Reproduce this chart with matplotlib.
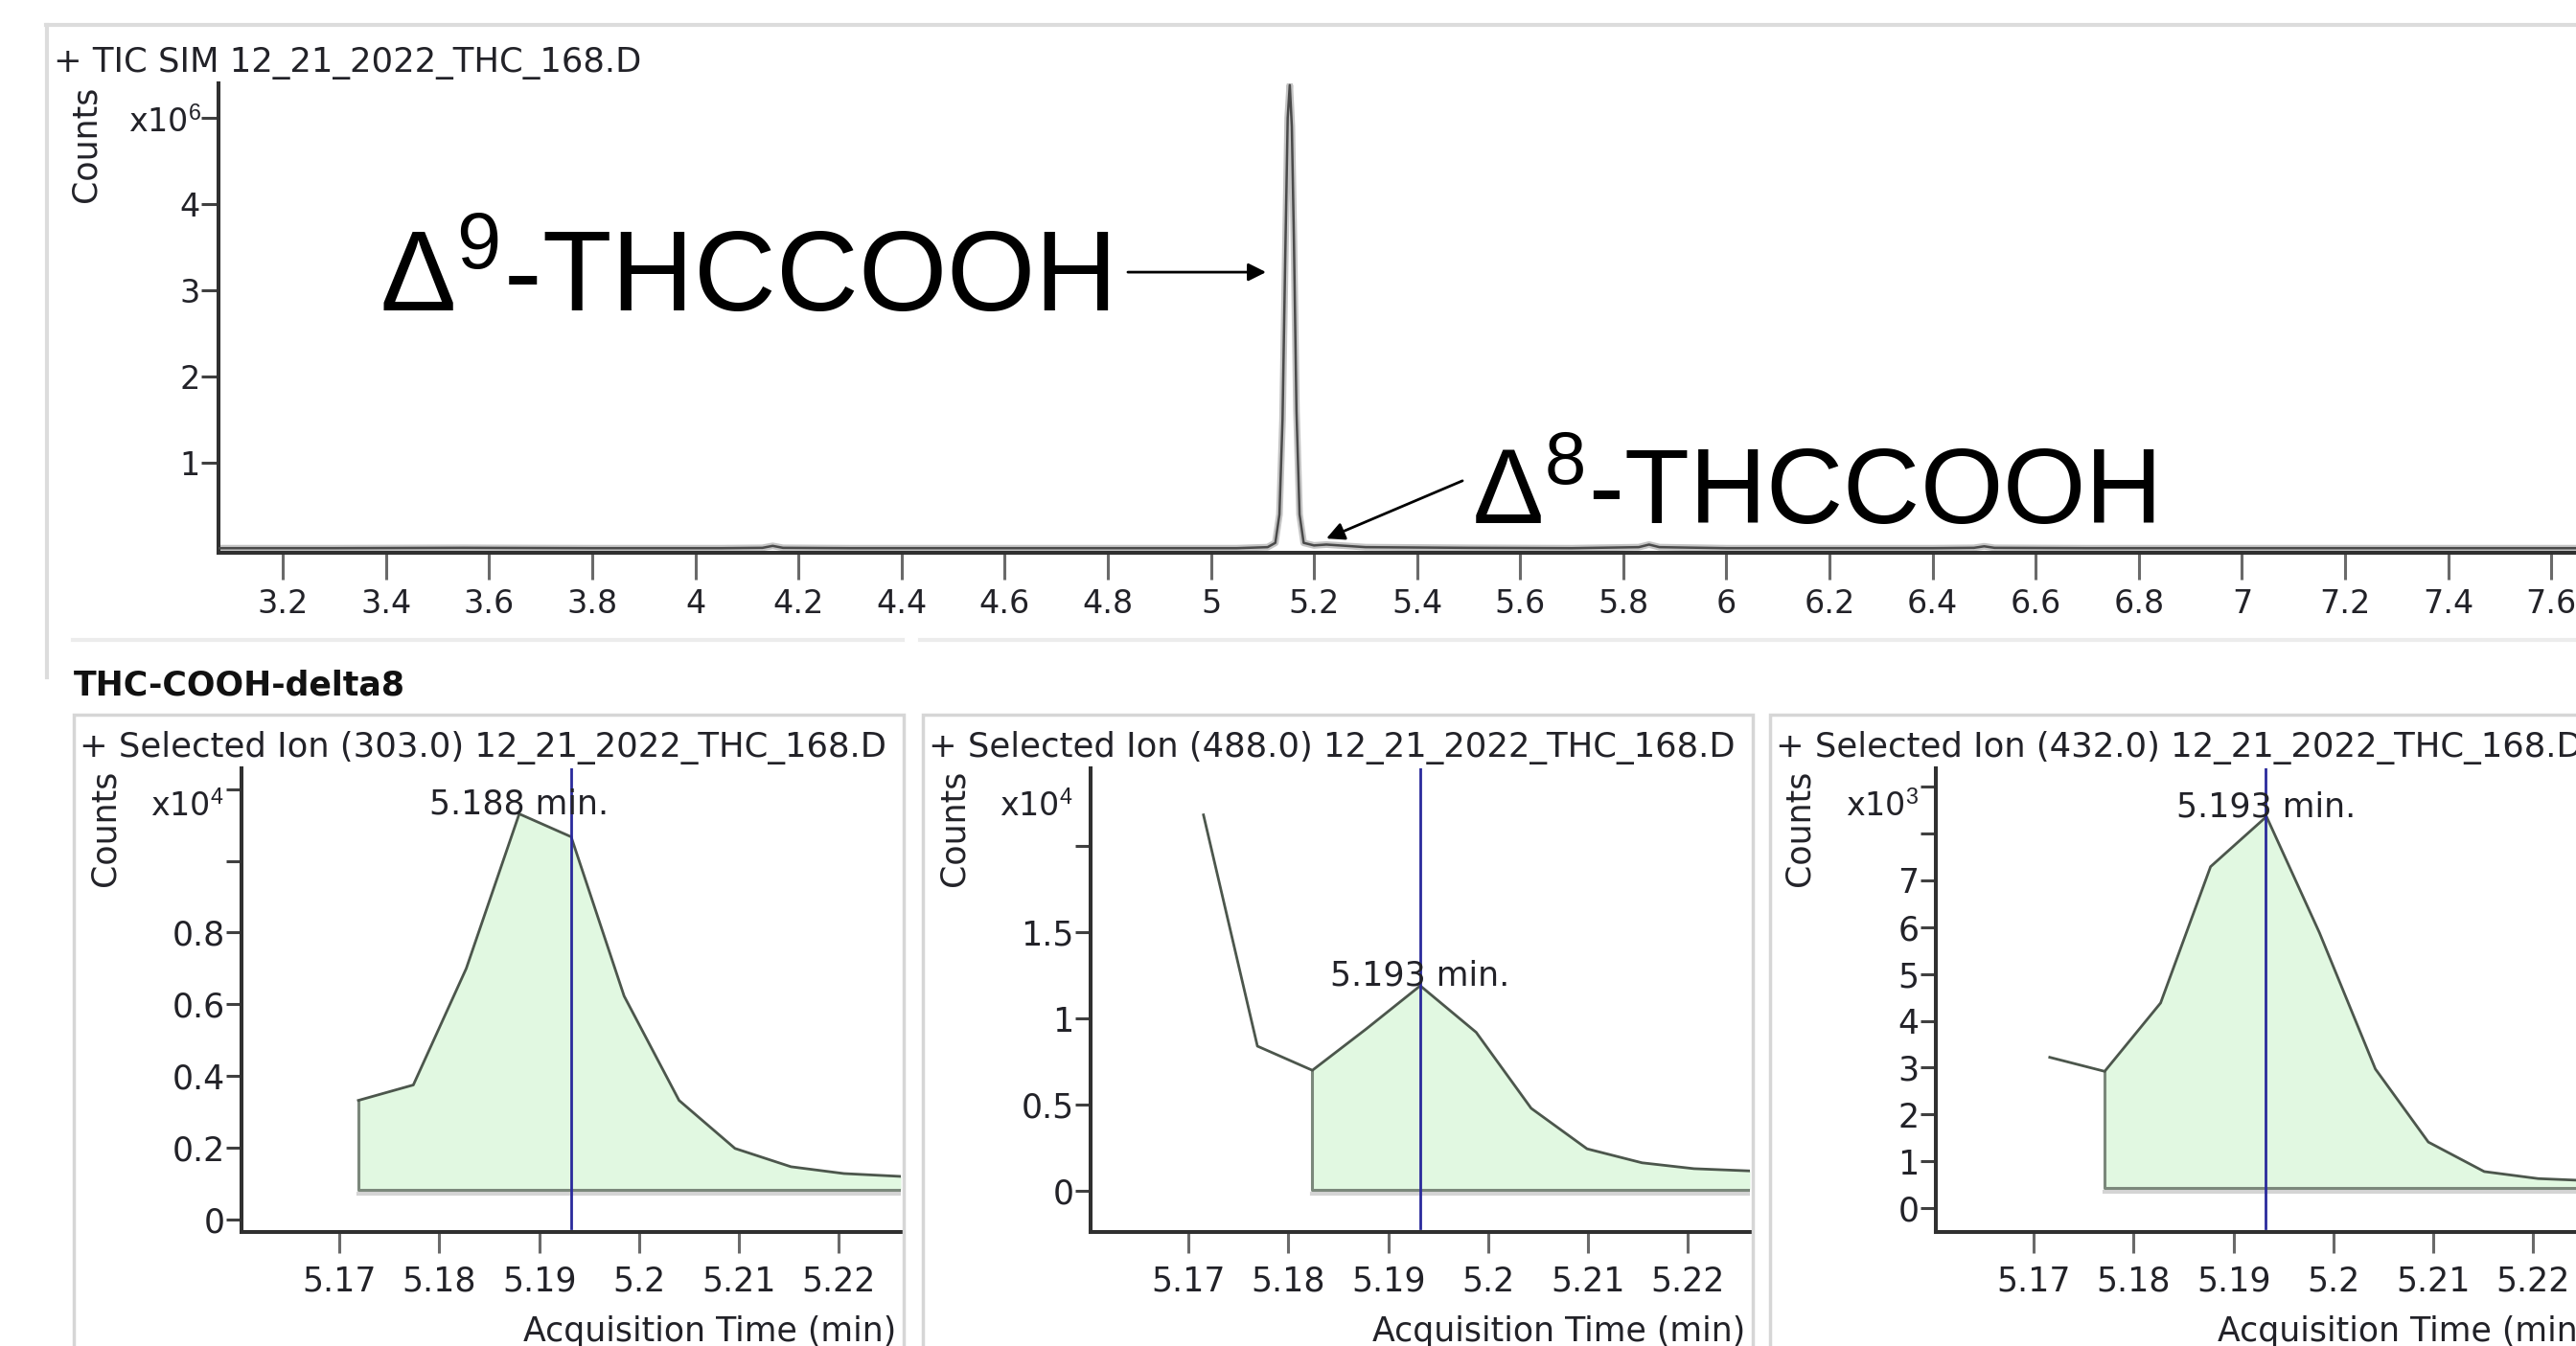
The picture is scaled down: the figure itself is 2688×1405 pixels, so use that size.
import matplotlib
matplotlib.use('Agg')
import matplotlib.pyplot as plt
import matplotlib.transforms as mtransforms
from matplotlib.patches import Rectangle
from matplotlib.lines import Line2D

plt.rcParams['font.family'] = ['DejaVu Sans']
plt.rcParams['mathtext.fontset'] = 'custom'
plt.rcParams['mathtext.rm'] = 'Liberation Sans'
plt.rcParams['mathtext.it'] = 'Liberation Sans:italic'
plt.rcParams['mathtext.bf'] = 'Liberation Sans:bold'

# ---- data (counts in units of the axis exponent) ----
tic_title = "+ TIC SIM 12_21_2022_THC_168.D"
tic_time = [3.075, 3.30, 3.55, 3.80, 4.05, 4.13, 4.15, 4.17, 4.30, 4.50, 4.70,
            4.90, 5.05, 5.11, 5.125, 5.133, 5.139, 5.144, 5.149, 5.153, 5.157,
            5.161, 5.166, 5.172, 5.180, 5.200, 5.224, 5.30, 5.50, 5.70, 5.83,
            5.85, 5.87, 6.00, 6.20, 6.40, 6.48, 6.50, 6.52, 6.70, 7.00, 7.30, 7.65]
tic_counts = [0.008, 0.008, 0.012, 0.008, 0.008, 0.012, 0.035, 0.012, 0.008, 0.008, 0.008,
              0.008, 0.008, 0.02, 0.07, 0.4, 1.5, 3.3, 5.0, 5.38, 4.9,
              3.6, 1.6, 0.4, 0.07, 0.04, 0.05, 0.02, 0.012, 0.008, 0.02,
              0.05, 0.02, 0.008, 0.008, 0.008, 0.012, 0.03, 0.012, 0.008, 0.008, 0.008, 0.008]
tic_xticks = [3.2, 3.4, 3.6, 3.8, 4.0, 4.2, 4.4, 4.6, 4.8, 5.0, 5.2, 5.4, 5.6,
              5.8, 6.0, 6.2, 6.4, 6.6, 6.8, 7.0, 7.2, 7.4, 7.6]
tic_xlabels = ['3.2', '3.4', '3.6', '3.8', '4', '4.2', '4.4', '4.6', '4.8', '5',
               '5.2', '5.4', '5.6', '5.8', '6', '6.2', '6.4', '6.6', '6.8', '7',
               '7.2', '7.4', '7.6']
tic_yticks = [1, 2, 3, 4, 5]
tic_ylabels = ['1', '2', '3', '4', '']

compound = "THC-COOH-delta8"
sub_titles = ["+ Selected Ion (303.0) 12_21_2022_THC_168.D",
              "+ Selected Ion (488.0) 12_21_2022_THC_168.D",
              "+ Selected Ion (432.0) 12_21_2022_THC_168.D"]
sub_exps = [4, 4, 3]
rt_expected = 5.1932
apex_labels = ["5.188 min.", "5.193 min.", "5.193 min."]
sub_xticks = [5.17, 5.18, 5.19, 5.20, 5.21, 5.22]
sub_xlabels = ['5.17', '5.18', '5.19', '5.2', '5.21', '5.22']

ion303_time = [5.1719, 5.1774, 5.1827, 5.1880, 5.1932, 5.1985, 5.2040, 5.2096, 5.2152, 5.2205, 5.2262]
ion303_counts = [0.332, 0.375, 0.70, 1.131, 1.067, 0.623, 0.332, 0.198, 0.147, 0.128, 0.120]
ion303_base = 0.083
ion303_yticks = [0, 0.2, 0.4, 0.6, 0.8, 1.0, 1.2]
ion303_ylabels = ['0', '0.2', '0.4', '0.6', '0.8', '', '']

ion488_time = [5.1715, 5.1769, 5.1824, 5.1878, 5.1932, 5.1988, 5.2043, 5.2099, 5.2154, 5.2206, 5.2262]
ion488_counts = [2.18, 0.84, 0.70, 0.94, 1.19, 0.92, 0.48, 0.245, 0.164, 0.13, 0.117]
ion488_base = 0.01
ion488_yticks = [0, 0.5, 1.0, 1.5, 2.0]
ion488_ylabels = ['0', '0.5', '1', '1.5', '']

ion432_time = [5.1716, 5.1771, 5.1827, 5.1877, 5.1933, 5.1986, 5.2042, 5.2095, 5.2151, 5.2205, 5.2262]
ion432_counts = [3.22, 2.92, 4.38, 7.29, 8.36, 5.88, 2.97, 1.41, 0.78, 0.63, 0.58]
ion432_base = 0.44
ion432_yticks = [0, 1, 2, 3, 4, 5, 6, 7, 8, 9]
ion432_ylabels = ['0', '1', '2', '3', '4', '5', '6', '7', '', '']

# ---- figure ----
W, H = 2688, 1405
TXT = '#222228'
FILL = '#e1f8e1'
fig = plt.figure(figsize=(W / 100, H / 100), dpi=100)


def fx(x):
    return x / W


def fy(y):
    return 1 - y / H


def axes_px(x0, y0, x1, y1):
    ax = fig.add_axes([x0 / W, 1 - y1 / H, (x1 - x0) / W, (y1 - y0) / H])
    ax.patch.set_visible(False)
    return ax


def style(ax, xlen, ylen, xpad, fs):
    for s in ['top', 'right']:
        ax.spines[s].set_visible(False)
    for s in ['left', 'bottom']:
        ax.spines[s].set_linewidth(2.9)
        ax.spines[s].set_color('#303030')
    ax.tick_params(axis='x', length=xlen, width=2.2, color='#6a6a6a', pad=xpad,
                   labelsize=fs, labelcolor=TXT)
    ax.tick_params(axis='y', length=ylen, width=2.2, color='#404040', pad=1,
                   labelsize=fs, labelcolor=TXT)


# frame lines of the report
fig.add_artist(Line2D([fx(48), 1], [fy(26), fy(26)], color='#dcdcdc', lw=3))
fig.add_artist(Line2D([fx(49), fx(49)], [fy(26), fy(707)], color='#dcdcdc', lw=3))
fig.add_artist(Line2D([fx(76), fx(942)], [fy(668), fy(668)], color='#ececec', lw=3))
fig.add_artist(Line2D([fx(960), 1], [fy(668), fy(668)], color='#ececec', lw=3))

# ---- TIC panel ----
ax = axes_px(228, 87, 2688, 577)
ax.plot(tic_time, tic_counts, color='#c4c4c4', lw=5, zorder=2)
ax.plot(tic_time, tic_counts, color='#4a4a4a', lw=1.8, zorder=3)
ax.set_xlim(3.075, 7.648)
ax.set_ylim(-0.045, 5.4)
ax.set_xticks(tic_xticks)
ax.set_xticklabels(tic_xlabels)
ax.set_yticks(tic_yticks)
ax.set_yticklabels(tic_ylabels)
style(ax, 20, 13, 6.5, 24)

fig.text(fx(56), fy(75), tic_title, fontsize=25.5, color=TXT, ha='left', va='baseline')
fig.text(fx(89), fy(150), 'Counts', fontsize=25, color=TXT, rotation=90, ha='center', va='center')
fig.text(fx(210), fy(138), r'x10$^{6}$', fontsize=24, color=TXT, ha='right', va='baseline')

big = dict(family='Liberation Sans', color='black', ha='left', va='baseline')
ax.text(3.388, 2.76, r'Δ$^{9}$-THCCOOH', fontsize=85.5, **big)
ax.annotate('', xy=(5.107, 3.21), xytext=(4.839, 3.21),
            arrowprops=dict(arrowstyle='-|>', color='black', lw=2, mutation_scale=28,
                            shrinkA=0, shrinkB=0))
ax.text(5.507, 0.29, r'Δ$^{8}$-THCCOOH', fontsize=80, **big)
ax.annotate('', xy=(5.224, 0.12), xytext=(5.488, 0.79),
            arrowprops=dict(arrowstyle='-|>', color='black', lw=2, mutation_scale=28,
                            shrinkA=0, shrinkB=0))

# ---- selected ion panels ----
fig.text(fx(77), fy(725), compound, fontsize=25, weight='bold', color='#111111',
         ha='left', va='baseline')

panels = [
    (252, 77, 943, ion303_time, ion303_counts, 0, ion303_base, (-0.035, 1.258),
     ion303_yticks, ion303_ylabels),
    (1138, 963, 1829, ion488_time, ion488_counts, 2, ion488_base, (-0.237, 2.45),
     ion488_yticks, ion488_ylabels),
    (2020, 1847, 2800, ion432_time, ion432_counts, 1, ion432_base, (-0.51, 9.39),
     ion432_yticks, ion432_ylabels),
]

for i, (x0, bx0, bx1, t, c, start, base, ylim, yt, yl) in enumerate(panels):
    fig.add_artist(Rectangle((fx(bx0), fy(1500)), (bx1 - bx0) / W, (1500 - 746) / H,
                             transform=fig.transFigure, fill=False, ec='#d6d6d6', lw=2.5))
    ax = axes_px(x0, 802, x0 + 688, 1286)
    ax.set_xlim(5.1602, 5.2262)
    ax.set_ylim(*ylim)
    shadow = mtransforms.offset_copy(ax.transData, fig=fig, x=0, y=-4, units='dots')
    ax.plot([t[start], t[-1]], [base, base], color='#d4d4d4', lw=3, transform=shadow, zorder=1)
    ax.fill_between(t[start:], c[start:], base, color=FILL, lw=0, zorder=1)
    ax.plot([t[-1], t[start], t[start]], [base, base, c[start]], color='#7b887b', lw=2.2, zorder=2)
    ax.plot(t, c, color='#4c564c', lw=2, zorder=3)
    ax.axvline(rt_expected, ymin=0.008, ymax=1, color='#2a2a9c', lw=2, zorder=4)
    k = c.index(max(c[start:]))
    ax.text(t[k], c[k], apex_labels[i], fontsize=25, color=TXT, ha='center', va='baseline', zorder=5)
    ax.set_xticks(sub_xticks)
    ax.set_xticklabels(sub_xlabels)
    ax.set_yticks(yt)
    ax.set_yticklabels(yl)
    style(ax, 16, 11.5, 8.5, 25)

    fig.text(fx(bx0 + 6), fy(790), sub_titles[i], fontsize=25.5, color=TXT, ha='left', va='baseline')
    fig.text(fx(x0 - 142), fy(864), 'Counts', fontsize=25, color=TXT, rotation=90,
             ha='center', va='center')
    fig.text(fx(x0 - 18), fy(852), r'x10$^{%d}$' % sub_exps[i], fontsize=24, color=TXT,
             ha='right', va='baseline')
    fig.text(fx(x0 + 683), fy(1373), 'Acquisition Time (min)', fontsize=25, color=TXT,
             ha='right', va='top')

fig.savefig('out.png', dpi=100)
